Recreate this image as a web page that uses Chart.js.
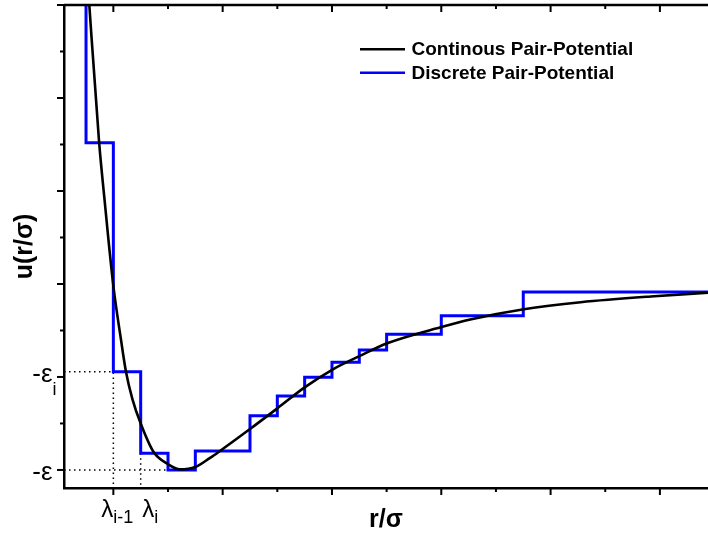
<!DOCTYPE html>
<html>
<head>
<meta charset="utf-8">
<script src="https://cdn.jsdelivr.net/npm/chart.js@4.4.0/dist/chart.umd.min.js"></script>
<style>
  html, body { margin: 0; padding: 0; background: #fff; }
  #caja { width: 708px; height: 535px; }
</style>
</head>
<body>
<div id="caja"><canvas id="potencial" width="708" height="535"></canvas></div>
<script>
// potencial.js — potencial de pares continuo vs. discretizado en escalones

// ── Datos ─────────────────────────────────────────────────────────────
// Potencial continuo u(r/σ)
const contR = [0.953, 0.956, 0.974, 0.984, 1.000, 1.014, 1.023, 1.035, 1.050, 1.074,
               1.098, 1.122, 1.150, 1.177, 1.195, 1.250, 1.300, 1.350, 1.401, 1.451,
               1.501, 1.602, 1.653, 1.751, 1.855, 1.983, 2.090];
const contU = [1.63, 1.50, 0.76, 0.45, -0.01, -0.30, -0.47, -0.62, -0.75, -0.905,
               -0.965, -0.997, -0.984, -0.935, -0.898, -0.78, -0.669, -0.556, -0.46, -0.387,
               -0.319, -0.23, -0.191, -0.136, -0.098, -0.067, -0.047];

// Niveles marcados en los ejes
const EPS = -1.0;          // -ε (pozo)
const EPS_I = -0.472;      // -ε_i
const LAMBDA_PREV = 1.00;  // λ_{i-1}
const LAMBDA_I = 1.05;     // λ_i

// Potencial discreto: cada punto = (borde derecho del escalón, nivel del escalón)
const discR = [0.95, LAMBDA_PREV, LAMBDA_I, 1.10, 1.15, 1.25, 1.30, 1.35, 1.40, 1.45,
               1.50, 1.60, 1.75, 2.10];
const discU = [3.0, 0.76, EPS_I, -0.91, EPS, -0.898, -0.708, -0.602, -0.502, -0.421,
               -0.355, -0.27, -0.171, -0.043];

// Marcas de los ejes
const xMayor = [1.0, 1.2, 1.4, 1.6, 1.8, 2.0];
const xMenor = [1.1, 1.3, 1.5, 1.7, 1.9];
const yMayor = [-1.0, -0.5, 0, 0.5, 1.0, 1.5];
const yMenor = [-0.75, -0.25, 0.25, 0.75, 1.25];

// Etiquetas simbólicas
const etiquetasY = [
  { v: EPS,   txt: "-ε", sub: "" },
  { v: EPS_I, txt: "-ε", sub: "i" },
];
const etiquetasX = [
  { v: LAMBDA_PREV, txt: "λ", sub: "i-1", ancla: "derecha" },
  { v: LAMBDA_I,    txt: "λ", sub: "i",   ancla: "izquierda" },
];

const X_MIN = 0.9097, X_MAX = 2.088;
const Y_MIN = -1.097, Y_MAX = 1.5;

// ── Estilo ────────────────────────────────────────────────────────────
const FUENTE = "'Liberation Sans', Arial, sans-serif";
const C_NEGRO = "#000000";
const C_AZUL  = "#0000FF";

Chart.defaults.font.family = FUENTE;
Chart.defaults.color = C_NEGRO;

const pares = (xs, ys) => xs.map((x, i) => ({ x, y: ys[i] }));

// ── Plugin: marcas mayores/menores, eje superior y etiquetas ─────────
const ejes = {
  id: "ejes",
  afterDraw(chart) {
    const { ctx, chartArea: a, scales: { x, y } } = chart;
    ctx.save();
    ctx.strokeStyle = C_NEGRO;
    ctx.lineWidth = 2.5;
    ctx.beginPath();
    ctx.moveTo(a.left, a.top);
    ctx.lineTo(a.right, a.top);
    ctx.stroke();

    ctx.lineWidth = 2;
    const marcaX = (v, largo) => {
      const px = x.getPixelForValue(v);
      ctx.beginPath();
      ctx.moveTo(px, a.bottom); ctx.lineTo(px, a.bottom + largo);
      ctx.moveTo(px, a.top);    ctx.lineTo(px, a.top + largo);
      ctx.stroke();
    };
    const marcaY = (v, largo) => {
      const py = y.getPixelForValue(v);
      ctx.beginPath();
      ctx.moveTo(a.left, py); ctx.lineTo(a.left - largo, py);
      ctx.stroke();
    };
    xMayor.forEach(v => marcaX(v, 7));
    xMenor.forEach(v => marcaX(v, 4));
    yMayor.forEach(v => marcaY(v, 7));
    yMenor.forEach(v => marcaY(v, 4));

    ctx.fillStyle = C_NEGRO;
    ctx.textBaseline = "alphabetic";

    // Etiquetas del eje y: -ε, -ε_i
    etiquetasY.forEach(e => {
      const py = y.getPixelForValue(e.v);
      const xd = a.left - 11.5;
      ctx.font = `26px ${FUENTE}`;
      ctx.textAlign = "right";
      ctx.fillText(e.txt, xd, py + 10);
      if (e.sub) {
        ctx.font = `18px ${FUENTE}`;
        ctx.textAlign = "left";
        ctx.fillText(e.sub, xd, py + 23);
      }
    });

    // Etiquetas del eje x: λ_{i-1}, λ_i
    etiquetasX.forEach(e => {
      const px = x.getPixelForValue(e.v);
      ctx.font = `24px ${FUENTE}`;
      const w = ctx.measureText(e.txt).width;
      const x0 = e.ancla === "derecha" ? px - w : px + 1.5;
      ctx.textAlign = "left";
      ctx.fillText(e.txt, x0, a.bottom + 29);
      ctx.font = `18px ${FUENTE}`;
      ctx.fillText(e.sub, x0 + w, a.bottom + 35);
    });
    ctx.restore();
  },
};

// ── Plugin: leyenda dentro del área ──────────────────────────────────
const leyenda = {
  id: "leyenda",
  afterDraw(chart) {
    const { ctx } = chart;
    ctx.save();
    chart.data.datasets.filter(d => d.enLeyenda).forEach((ds, i) => {
      const yl = 49.3 + i * 23.4;
      ctx.strokeStyle = ds.borderColor;
      ctx.lineWidth = 2.5;
      ctx.beginPath();
      ctx.moveTo(360, yl); ctx.lineTo(405, yl);
      ctx.stroke();
      ctx.fillStyle = C_NEGRO;
      ctx.font = `bold 19px ${FUENTE}`;
      ctx.textAlign = "left";
      ctx.textBaseline = "alphabetic";
      ctx.fillText(ds.label, 411.5, yl + 6);
    });
    ctx.restore();
  },
};

const guia = (datos) => ({
  data: datos, borderColor: C_NEGRO, borderWidth: 1.5, borderDash: [1.5, 3.5],
  pointRadius: 0, fill: false, order: 3,
});

// ── Gráfico ───────────────────────────────────────────────────────────
new Chart(document.getElementById("potencial"), {
  type: "line",
  data: {
    datasets: [
      { label: "Continous Pair-Potential", enLeyenda: true, data: pares(contR, contU),
        borderColor: C_NEGRO, borderWidth: 2.6, pointRadius: 0,
        cubicInterpolationMode: "monotone", order: 0 },
      { label: "Discrete Pair-Potential", enLeyenda: true, data: pares(discR, discU),
        borderColor: C_AZUL, borderWidth: 3, pointRadius: 0, stepped: "after", order: 1 },
      guia([{ x: X_MIN, y: EPS_I }, { x: LAMBDA_PREV, y: EPS_I }, { x: LAMBDA_PREV, y: Y_MIN }]),
      guia([{ x: X_MIN, y: EPS }, { x: discR[3], y: EPS }]),
      guia([{ x: LAMBDA_I, y: discU[3] }, { x: LAMBDA_I, y: Y_MIN }]),
    ],
  },
  options: {
    responsive: false,
    devicePixelRatio: 1,
    animation: false,
    layout: { padding: { top: 5, right: 0, bottom: 0, left: 0 } },
    plugins: { legend: { display: false }, tooltip: { enabled: false } },
    scales: {
      x: {
        type: "linear", min: X_MIN, max: X_MAX,
        grid: { display: false },
        border: { display: true, color: C_NEGRO, width: 2.5 },
        ticks: { display: false },
        title: { display: true, text: "r/σ", color: C_NEGRO,
          font: { family: FUENTE, size: 25, weight: "bold", lineHeight: 1.2 },
          padding: { top: 0, bottom: 0 } },
        afterFit: s => { s.height = 47; },
      },
      y: {
        type: "linear", min: Y_MIN, max: Y_MAX,
        grid: { display: false },
        border: { display: true, color: C_NEGRO, width: 2.5 },
        ticks: { display: false },
        title: { display: true, text: "u(r/σ)", color: C_NEGRO,
          font: { family: FUENTE, size: 25, weight: "bold", lineHeight: 1.2 },
          padding: { top: 10, bottom: 0 } },
        afterFit: s => { s.width = 64; },
      },
    },
  },
  plugins: [ejes, leyenda],
});
</script>
</body>
</html>
